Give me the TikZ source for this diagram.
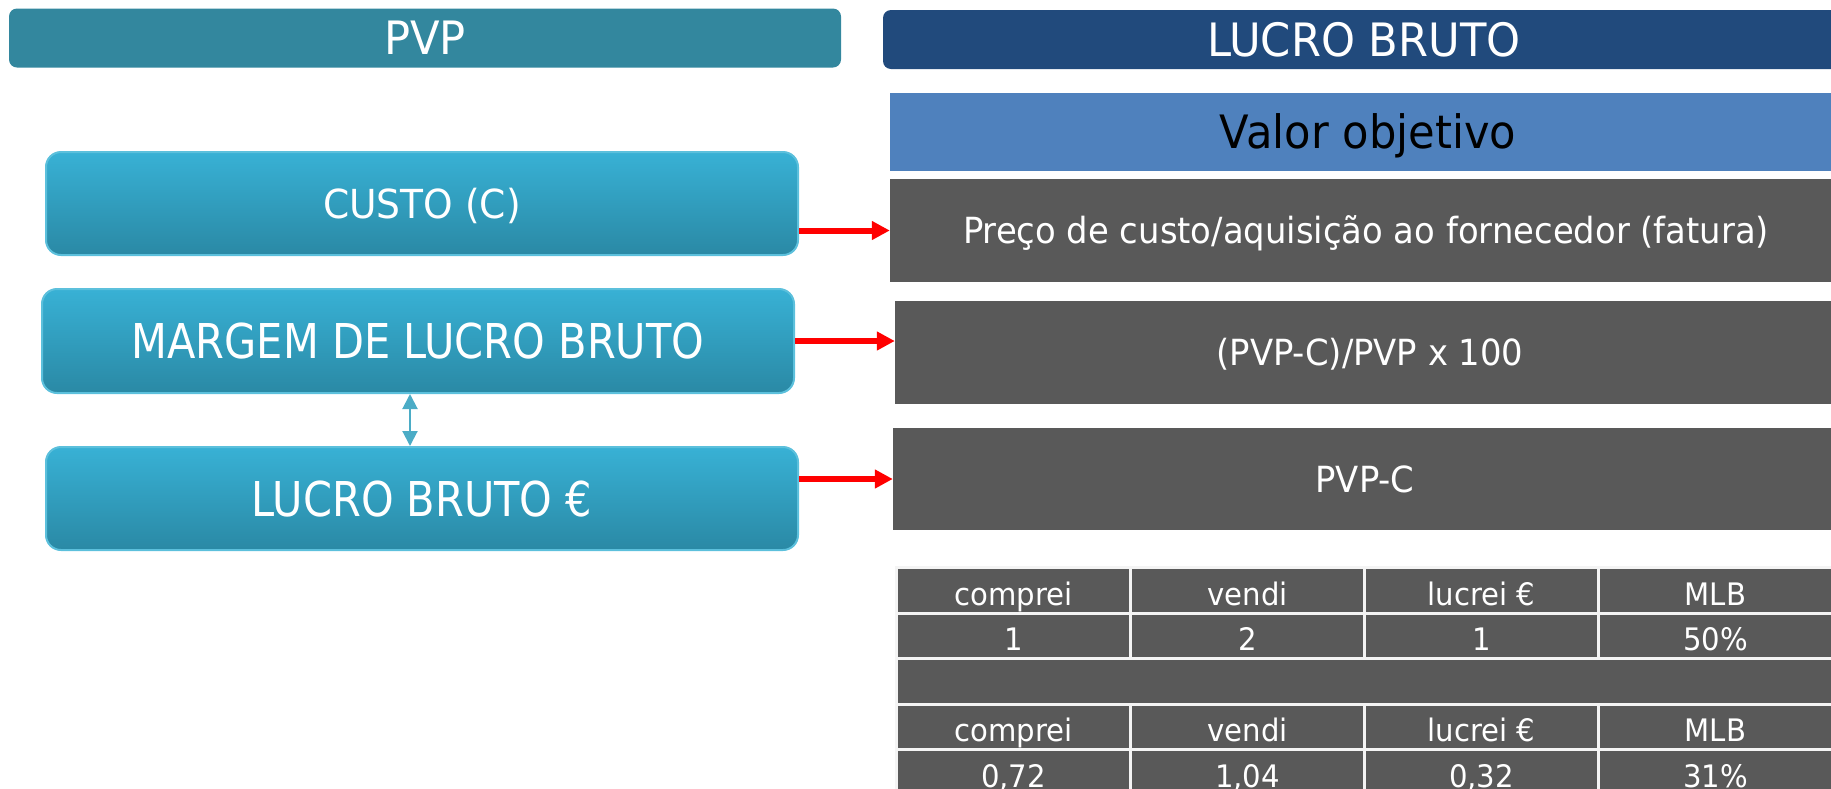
\documentclass[tikz,border=0pt]{standalone}
\usepackage{fontspec}
\setmainfont[FakeStretch=0.94]{DejaVu Sans}
\newfontfamily\narrowfont[FakeStretch=0.865]{DejaVu Sans}
\usetikzlibrary{arrows.meta,positioning}
\definecolor{pvpteal}{HTML}{33879E}
\definecolor{lbblue}{HTML}{214A7C}
\definecolor{valorblue}{HTML}{4F81BD}
\definecolor{graybox}{HTML}{595959}
\definecolor{boxtop}{HTML}{38B1D5}
\definecolor{boxbot}{HTML}{2A89A5}
\definecolor{boxedge}{HTML}{5CC0DC}
\definecolor{dblarrow}{HTML}{4BACC6}
\definecolor{cellline}{HTML}{F4F4F4}

\begin{document}
\begin{tikzpicture}[x=1pt,y=-1pt,
    headbox/.style={rectangle, rounded corners=8pt, minimum height=59pt, text=white, text height=33.5pt, text depth=0pt, font=\fontsize{46}{54}\selectfont},
    leftbox/.style={rectangle, rounded corners=15pt, top color=boxtop, bottom color=boxbot, draw=boxedge, line width=2pt, minimum width=752pt, minimum height=103pt, text=white, text height=35pt, text depth=0pt, font=\narrowfont\fontsize{48}{56}\selectfont},
    graybox/.style={rectangle, fill=graybox, minimum height=103pt, text=white, text height=26.2pt, text depth=0pt, font=\fontsize{36}{42}\selectfont},
    cell/.style={rectangle, fill=graybox, draw=cellline, line width=3pt, anchor=north west, inner sep=0pt, minimum width=234pt, text height=37.5pt, text depth=8pt, text=white, font=\fontsize{31}{36}\selectfont},
    redarrow/.style={draw=red, line width=6pt, -{Triangle[length=18pt,width=18pt]}}]
        \useasboundingbox (0,0) rectangle (1831,788);
        \clip (0,0) rectangle (1831,788);
        \def\rowh{45.5}
        \def\colw{234}

        \node(pvp) [headbox, fill=pvpteal, minimum width=832pt] at (425,38) {PVP};
        \node(lbhead) [headbox, fill=lbblue, minimum width=962pt] at (1364,39.5) {LUCRO BRUTO};
        \node(valor) [rectangle, fill=valorblue, minimum width=956pt, minimum height=78pt, text height=33.5pt, text depth=0pt, font=\fontsize{46}{54}\selectfont] at (1368,132) {Valor objetivo};

        \node(preco) [graybox, minimum width=952pt] at (1366,230.5) {Preço de custo/aquisição ao fornecedor (fatura)};
        \node(formula) [graybox, minimum width=950pt] at (1370,352.5) {(PVP-C)/PVP x 100};
        \node(pvpc) [graybox, minimum width=944pt, minimum height=102pt] at (1365,479) {PVP-C};

        \node(custo) [leftbox, text height=29.2pt, font=\fontsize{40}{48}\selectfont] at (422,203.5) {CUSTO (C)};
        \node(margem) [leftbox, minimum height=104pt] at (418,341) {MARGEM DE LUCRO BRUTO};
        \node(lucro) [leftbox] at (422,498.5) {LUCRO BRUTO €};

        \draw[redarrow] (custo.east |- preco.west) -- (preco.west);
        \draw[redarrow] (margem.east) -- (margem.east -| formula.west);
        \draw[redarrow] (lucro.east |- pvpc.west) -- (pvpc.west);

        \coordinate(dbltop) at ([xshift=-8pt]margem.south);
        \draw[dblarrow, line width=2pt, {Triangle[length=15pt,width=15pt]}-{Triangle[length=15pt,width=15pt]}] (dbltop) -- (dbltop |- lucro.north);

        \foreach \ha/\va/\hb/\vb [count=\i] in {comprei/1/comprei/{0,72}, vendi/2/vendi/{1,04}, lucrei €/1/lucrei €/{0,32}, MLB/50\%/MLB/31\%}
        {
            \node(ha\i) [cell] at (895+\i*\colw-\colw,566) {\ha};
            \node(va\i) [cell] at (895+\i*\colw-\colw,566+\rowh) {\va};
            \node(hb\i) [cell] at (895+\i*\colw-\colw,566+3*\rowh) {\hb};
            \node(vb\i) [cell] at (895+\i*\colw-\colw,566+4*\rowh) {\vb};
        }
        \node(gap) [cell, minimum width=4*\colw pt] at (895,566+2*\rowh) {};
    \end{tikzpicture}
\end{document}
